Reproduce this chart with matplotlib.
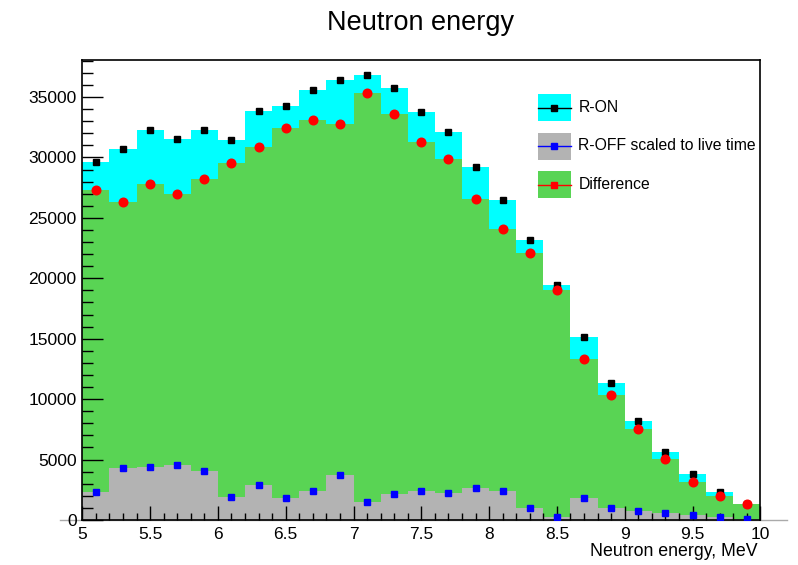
import numpy as np
import matplotlib
matplotlib.use("Agg")
import matplotlib.pyplot as plt
from matplotlib.patches import Rectangle
from matplotlib.lines import Line2D

plt.rcParams['font.family'] = ['Liberation Sans', 'DejaVu Sans']

W, H = 798, 565

# neutron energy bins, 5 - 10 MeV, 0.2 MeV wide
edges = np.linspace(5.0, 10.0, 26)
centers = 0.5 * (edges[:-1] + edges[1:])

# counts per bin
r_on = [29640, 30710, 32230, 31510, 32230, 31430, 33830, 34220, 35620, 36420,
        36830, 35710, 33800, 32090, 29200, 26490, 23180, 19440, 15160, 11330,
        8210, 5650, 3780, 2290, 1300]
r_off = [2320, 4300, 4410, 4520, 4030, 1900, 2920, 1820, 2420, 3720,
         1510, 2130, 2420, 2230, 2620, 2400, 990, 270, 1820, 990,
         740, 600, 410, 270, 50]
diff = [27300, 26280, 27790, 26990, 28200, 29500, 30880, 32400, 33090, 32730,
        35320, 33610, 31290, 29890, 26580, 24070, 22060, 19020, 13320, 10340,
        7500, 5020, 3170, 1990, 1300]

c_on = '#00ffff'
c_off = '#b3b3b3'
c_diff = '#59d454'


def fx(px):
    return px / W


def fy(py):
    return 1 - py / H


fig = plt.figure(figsize=(W / 100, H / 100), dpi=100)
ax = fig.add_axes([fx(82.3), 45 / H, 678 / W, 459.6 / H])

ax.stairs(r_on, edges, fill=True, color=c_on, linewidth=0)
ax.stairs(diff, edges, fill=True, color=c_diff, linewidth=0)
ax.stairs(r_off, edges, fill=True, color=c_off, linewidth=0)

ax.plot(centers, r_on, 's', color='black', ms=4.5, zorder=5)
ax.plot(centers, r_off, 's', color='blue', ms=4.5, zorder=5)
ax.plot(centers, diff, 'o', color='red', ms=6.2, zorder=6)

ax.set_xlim(5, 10)
ax.set_ylim(0, 38030)
ax.set_xticks(np.arange(5, 10.01, 0.5))
ax.set_xticklabels(['5', '5.5', '6', '6.5', '7', '7.5', '8', '8.5', '9', '9.5', '10'])
ax.set_xticks(np.arange(5, 10.01, 0.1), minor=True)
ax.set_yticks(np.arange(0, 35001, 5000))
ax.set_yticks(np.arange(0, 38001, 1000), minor=True)

ax.tick_params(axis='both', which='both', direction='in', top=False, right=False,
               labelsize=12.5, width=1, color='black')
ax.tick_params(axis='y', which='major', length=15, pad=4)
ax.tick_params(axis='y', which='minor', length=8)
ax.tick_params(axis='x', which='major', length=10, pad=5)
ax.tick_params(axis='x', which='minor', length=5)
for s in ax.spines.values():
    s.set_linewidth(1.2)

# baseline running past both sides of the frame
fig.add_artist(Line2D([fx(60), fx(787)], [45 / H, 45 / H],
                      color='#aaaaaa', lw=1, zorder=0))

fig.text(fx(421), fy(23), 'Neutron energy', ha='center', va='center',
         fontsize=19.5)
fig.text(fx(758), fy(551), 'Neutron energy, MeV', ha='right',
         va='center', fontsize=12.8)

# legend: filled box with line and marker, then the label
entries = [('R-ON', c_on, 'black'),
           ('R-OFF scaled to live time', c_off, 'blue'),
           ('Difference', c_diff, 'red')]
box_x0, box_w, box_h = 537.7, 33, 27
row_tops = [94, 132.5, 171]
for (label, fill, mcol), top in zip(entries, row_tops):
    fig.add_artist(Rectangle((fx(box_x0), fy(top + box_h)), box_w / W, box_h / H,
                             facecolor=fill, edgecolor='none'))
    yc = fy(top + box_h / 2)
    fig.add_artist(Line2D([fx(box_x0), fx(box_x0 + box_w)], [yc, yc],
                          color=mcol, lw=1))
    fig.add_artist(Line2D([fx(box_x0 + box_w / 2)], [yc], marker='s', ms=3.8,
                          color=mcol, lw=0))
    fig.text(fx(578.3), yc, label, ha='left', va='center', fontsize=11.3)

fig.savefig('out.png', dpi=100)
